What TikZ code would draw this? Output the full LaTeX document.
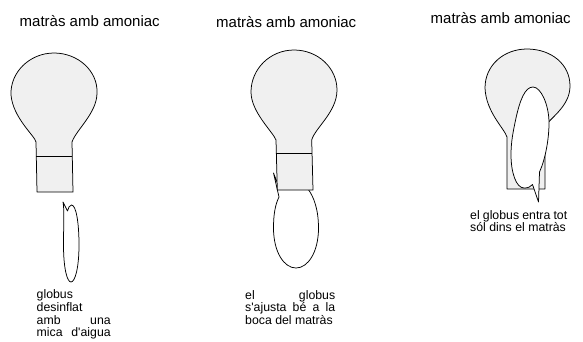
\documentclass[tikz,border=0pt]{standalone}
\usepackage{fontspec}
% plain family: keeps the straight apostrophe
\newfontfamily\labelfont{Liberation Sans}
\begin{document}
\begin{tikzpicture}[x=1bp,y=-1bp,
  flask/.style={draw=black, fill=black!6, line width=0.75bp, line join=round},
  balloon/.style={draw=black, fill=white, line width=0.75bp, line join=round},
  edge/.style={draw=black, line width=0.75bp},
  title/.style={anchor=base west, inner sep=0pt, font={\labelfont\fontsize{15bp}{18bp}\selectfont}},
  caption/.style={anchor=base west, inner sep=0pt, font={\labelfont\fontsize{12.3bp}{12.7bp}\selectfont}}]
\useasboundingbox (0,0) rectangle (583,341);
\clip (0,0) rectangle (583,341);

% titles
\node[title] (t1) at (19.5,26) {matràs amb amoniac};
\node[title] (t2) at (216,27) {matràs amb amoniac};
\node[title] (t3) at (430.5,23.5) {matràs amb amoniac};

% first flask, balloon below it
\draw[flask] (37,192) -- (36,142) .. controls (35,136) and (13,118) .. (11,95)
  .. controls (10,72) and (30,53) .. (54,53) .. controls (78,53) and (98,71) .. (97,93)
  .. controls (97,113) and (76,130) .. (72,142) -- (73,192) -- cycle;
\draw[edge] (36.3,156) -- (72.3,156);
\draw[balloon] (67.5,211) -- (63,202) .. controls (64.5,210) and (63.5,225) .. (63.5,245)
  .. controls (63.5,268) and (67,282) .. (71,282) .. controls (75,282) and (79,268) .. (79,245)
  .. controls (79,222) and (76,205) .. (71.5,205) .. controls (69.5,205) and (68.3,208) .. (67.5,211) -- cycle;

% second flask with the balloon on its mouth
\draw[balloon] (277,182) -- (273.5,173) -- (279,197) .. controls (275,205) and (273.5,215) .. (273.5,228)
  .. controls (273.5,252) and (284,268) .. (296,268) .. controls (308,268) and (318.5,252) .. (318.5,228)
  .. controls (318.5,210) and (314,197) .. (308,189) -- cycle;
\draw[flask] (277.3,190) -- (276,140) .. controls (273,132) and (251,112) .. (251,92)
  .. controls (251,69) and (270,50) .. (294,50) .. controls (318,50) and (337,68) .. (337,90)
  .. controls (337,112) and (315,128) .. (311.7,140) -- (313,190) -- cycle;
\draw[edge] (276.4,153.3) -- (312.1,153.3);

% third flask with the balloon inside
\draw[flask] (545,189) -- (545,126) .. controls (553,116) and (570,105) .. (570,86)
  .. controls (570,64) and (551,49) .. (527,49) .. controls (504,49) and (485,65) .. (485,88)
  .. controls (486,112) and (504,128) .. (507,137) -- (507,189) -- cycle;
\draw[balloon] (532.5,184.5) -- (538.5,202) -- (539.5,172)
  .. controls (545,160) and (549,140) .. (549,123) .. controls (549,105) and (541,87) .. (533,87)
  .. controls (525,87) and (520,100) .. (516,118) .. controls (513,132) and (511,142) .. (511,155)
  .. controls (511,172) and (516,188) .. (524,188) .. controls (528,188) and (530.5,187) .. (532.5,184.5) -- cycle;

% captions
\node[caption] (c1) at (36.5,298.7) {\vtop{\hbox{globus}\hbox{desinflat}%
  \hbox{\makebox[74bp][s]{amb una}}\hbox{\makebox[74bp][s]{mica d'aigua}}}};
\node[caption] (c2) at (245,299) {\vtop{\hbox{\makebox[90bp][s]{el globus}}%
  \hbox{\makebox[90bp][s]{s'ajusta bé a la}}\hbox{boca del matràs}}};
\node[caption] (c3) at (470,219) {\vtop{\hbox{\makebox[97bp][s]{el globus entra tot}}%
  \hbox{sól dins el matràs}}};
\end{tikzpicture}
\end{document}
